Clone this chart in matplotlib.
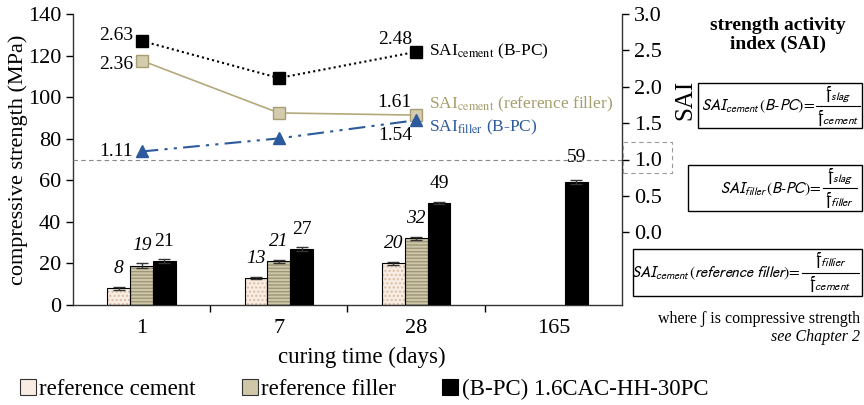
import numpy as np
import matplotlib
matplotlib.use("Agg")
import matplotlib.pyplot as plt
from matplotlib.patches import Patch, Rectangle
from matplotlib.lines import Line2D

plt.rcParams['font.family'] = ['Liberation Serif', 'DejaVu Serif']

# ---- data ----
categories = ["1", "7", "28", "165"]
ref_cement = [8, 13, 20, np.nan]
ref_filler = [19, 21, 32, np.nan]
bpc = [21, 27, 49, 59]
err_cement = [0.6, 0.6, 0.6, np.nan]
err_filler = [1.2, 0.8, 0.5, np.nan]
err_bpc = [1.0, 0.8, 0.4, 0.9]

sai_cement_bpc = [2.63, 2.12, 2.48]
sai_cement_filler = [2.36, 1.64, 1.61]
sai_filler_bpc = [1.11, 1.29, 1.54]
sai_days_idx = [0, 1, 2]

sai_cement_bpc_labels = ["2.63", None, "2.48"]
sai_cement_filler_labels = ["2.36", None, "1.61"]
sai_filler_bpc_labels = ["1.11", None, "1.54"]

c_cement = "#f8ede3"
c_filler = "#cec7a8"
c_bpc = "#000000"
c_tan_line = "#b3a97c"
c_tan_text = "#a59d6b"
c_blue = "#2c5a9c"

fig = plt.figure(figsize=(8.64, 4.05), dpi=100)
ax = fig.add_axes([73/864, 100/405, (622-73)/864, (305-14)/405])

x = np.arange(len(categories))
w = 0.166

# hatch layers
ax.bar(x - w, ref_cement, w, color=c_cement, edgecolor="#dcbca4", hatch="....", linewidth=0, zorder=2)
ax.bar(x, ref_filler, w, color=c_filler, edgecolor="#9d9678", hatch="-----", linewidth=0, zorder=2)
# outlines
ax.bar(x - w, ref_cement, w, fill=False, edgecolor="black", linewidth=0.8, zorder=3)
ax.bar(x, ref_filler, w, fill=False, edgecolor="black", linewidth=0.8, zorder=3)
ax.bar(x + w, bpc, w, color=c_bpc, edgecolor="black", linewidth=0.8, zorder=3)

for off, vals, errs in [(-w, ref_cement, err_cement), (0, ref_filler, err_filler), (w, bpc, err_bpc)]:
    ax.errorbar(x + off, vals, yerr=errs, fmt="none", ecolor="#333333", elinewidth=1,
                capsize=4, capthick=1, zorder=4)

for off, vals, style in [(-w, ref_cement, "italic"), (0, ref_filler, "italic"), (w, bpc, "normal")]:
    for xi, v in zip(x, vals):
        if np.isnan(v):
            continue
        dy = 12 if xi == 3 else 8
        ax.annotate(f"{v:g}", (xi + off, v), xytext=(0, dy), textcoords="offset points",
                    ha="center", va="bottom", fontsize=14, style=style)

ax.set_xlim(-0.5, 3.5)
ax.set_ylim(0, 140)
ax.set_yticks(np.arange(0, 141, 20))
ax.set_xticks(x)
ax.set_xticklabels(categories)
ax.set_xticks(np.arange(0.5, 3.0, 1.0), minor=True)
ax.tick_params(axis="x", which="major", length=0, labelsize=16, pad=10)
ax.tick_params(axis="x", which="minor", length=5, direction="out", width=1)
ax.tick_params(axis="y", labelsize=16, length=5, width=1, direction="out")
ax.spines["top"].set_visible(False)
ax.spines["right"].set_visible(False)
for s in ["left", "bottom"]:
    ax.spines[s].set_linewidth(1)
    ax.spines[s].set_color("#333333")
ax.set_xlabel("curing time (days)", fontsize=16.5)
ax.xaxis.set_label_coords((362-73)/549, (305-347)/291)
ax.set_ylabel("compressive strength (MPa)", fontsize=16)
ax.yaxis.set_label_coords((28-73)/549, 0.5)

# SAI axis
ax2 = ax.twinx()
ax2.set_ylim(-1, 3)
ax2.set_yticks(np.arange(0, 3.01, 0.5))
ax2.set_yticklabels([f"{t:.1f}" for t in np.arange(0, 3.01, 0.5)])
ax2.tick_params(axis="y", labelsize=16, length=5, width=1, direction="out")
for s in ["top", "left", "bottom"]:
    ax2.spines[s].set_visible(False)
ax2.spines["right"].set_linewidth(1)
ax2.spines["right"].set_color("#333333")

ax2.axhline(1.0, color="#888888", linestyle=(0, (4, 3)), linewidth=0.8, zorder=1)

ax2.plot(sai_days_idx, sai_cement_bpc, linestyle=(0, (1, 1.5)), color="black", linewidth=1.5,
         marker="s", markersize=9, markerfacecolor="black", markeredgecolor="black", zorder=5)
ax2.plot(sai_days_idx, sai_cement_filler, linestyle="-", color=c_tan_line, linewidth=1.2,
         marker="s", markersize=9, markerfacecolor="#d4ccae", markeredgecolor="#a79e72", zorder=5)
ax2.plot(sai_days_idx, sai_filler_bpc, linestyle=(0, (8, 3, 1.5, 3, 1.5, 3)), color=c_blue, linewidth=1.5,
         marker="^", markersize=9, markerfacecolor=c_blue, markeredgecolor=c_blue, zorder=5)

label_offsets = {
    "cb": [(-6, 4), None, (-3, 9)],
    "cf": [(-6, -3), None, (-3, 9)],
    "fb": [(-6, 0), None, (-3, -11)],
}
for key, vals, labs in [("cb", sai_cement_bpc, sai_cement_bpc_labels),
                        ("cf", sai_cement_filler, sai_cement_filler_labels),
                        ("fb", sai_filler_bpc, sai_filler_bpc_labels)]:
    for i, (v, lab) in enumerate(zip(vals, labs)):
        if lab is None:
            continue
        ax2.annotate(lab, (sai_days_idx[i], v), xytext=label_offsets[key][i], textcoords="offset points",
                     ha="right", va="center", fontsize=14)

ax2.annotate("SAI$_{\\rm cement}$ (B-PC)", (2, sai_cement_bpc[2]), xytext=(9, 0),
             textcoords="offset points", ha="left", va="center", fontsize=12.5, color="black",
             math_fontfamily="stix")
ax2.annotate("SAI$_{\\rm cement}$ (reference filler)", (2, sai_cement_filler[2]), xytext=(9, 8),
             textcoords="offset points", ha="left", va="center", fontsize=12.5, color=c_tan_text,
             math_fontfamily="stix")
ax2.annotate("SAI$_{\\rm filler}$ (B-PC)", (2, sai_filler_bpc[2]), xytext=(9, -5),
             textcoords="offset points", ha="left", va="center", fontsize=12.5, color=c_blue,
             math_fontfamily="stix")

# dashed box around 1.0 tick label
fig.add_artist(Rectangle((623/864, (405-173)/405), 49/864, 31/405, transform=fig.transFigure,
                         fill=False, edgecolor="#999999", linestyle=(0, (4, 3)), linewidth=0.8))

fig.text(685/864, (405-100)/405, "SAI", rotation=90, ha="center", va="center", fontsize=18)

# right panel
fig.text(778/864, (405-35)/405, "strength activity\nindex (SAI)", ha="center", va="center",
         fontsize=14, fontweight="bold", linespacing=1.1)

boxes = [
    ((698, 83, 862, 128), (816, 860),
     r"$SAI_{cement}\,(B\text{-}PC)\!=$", r"$\mathfrak{f}_{slag}$", r"$\mathfrak{f}_{cement}$"),
    ((688, 165, 862, 211), (823, 857),
     r"$SAI_{filler}\,(B\text{-}PC)\!=$", r"$\mathfrak{f}_{slag}$", r"$\mathfrak{f}_{filler}$"),
    ((633, 249, 862, 296), (802, 859),
     r"$SAI_{cement}\,(reference\ filler)\!=$", r"$\mathfrak{f}_{fillier}$", r"$\mathfrak{f}_{cement}$"),
]
def fy(py):
    return (405 - py) / 405
def fx(px):
    return px / 864
for (x0, y0, x1, y1), (fa, fb), left, num, den in boxes:
    fig.add_artist(Rectangle((fx(x0), fy(y1)), (x1-x0)/864, (y1-y0)/405,
                             transform=fig.transFigure, fill=False, edgecolor="black", linewidth=1))
    ym = (y0 + y1) / 2
    fig.text(fx(fa - 1), fy(ym + 1), left, ha="right", va="center", fontsize=11.2,
             math_fontfamily="stixsans")
    fig.add_artist(Line2D([fx(fa), fx(fb)], [fy(ym), fy(ym)], transform=fig.transFigure,
                          color="black", linewidth=0.8))
    fig.text(fx((fa + fb) / 2), fy(ym - 2), num, ha="center", va="bottom", fontsize=12,
             math_fontfamily="stixsans")
    fig.text(fx((fa + fb) / 2), fy(ym + 2), den, ha="center", va="top", fontsize=12,
             math_fontfamily="stixsans")

fig.text(860/864, (405-319)/405, "where \u0283 is compressive strength", ha="right", va="center",
         fontsize=11.5)
fig.text(860/864, (405-337)/405, "see Chapter 2", ha="right", va="center", fontsize=11.5,
         style="italic")

handles = [Patch(facecolor=c_cement, edgecolor="#333333", linewidth=0.8),
           Patch(facecolor=c_filler, edgecolor="#333333", linewidth=0.8),
           Patch(facecolor=c_bpc, edgecolor="black", linewidth=0.8)]
labels = ["reference cement", "reference filler", "(B-PC) 1.6CAC-HH-30PC"]
fig.legend(handles, labels, loc="center left", bbox_to_anchor=(20/864, (405-389)/405), ncol=3,
           frameon=False, fontsize=16.5, handlelength=0.7, handleheight=0.7, handletextpad=0.15,
           columnspacing=2.0, borderpad=0, borderaxespad=0)

fig.savefig("out.png", dpi=100)
